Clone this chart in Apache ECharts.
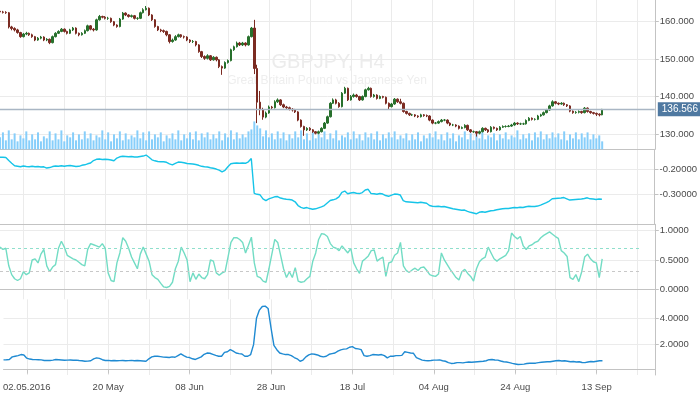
<!DOCTYPE html>
<html><head><meta charset="utf-8">
<script src="https://cdn.jsdelivr.net/npm/echarts@6/dist/echarts.min.js"></script>
<style>html,body{margin:0;padding:0;background:#fff}#c{width:700px;height:394px}</style>
</head><body><div id="c"></div>
<script>
// ---------- data ----------
const symbolName = 'GBPJPY, H4';
const symbolDesc = 'Great Britain Pound vs Japanese Yen';
const xTickLabels = ['02.05.2016','20 May','08 Jun','28 Jun','18 Jul','04 Aug','24 Aug','13 Sep'];
const priceTicks = [130,140,150,160];
const ind1Ticks = [-0.3,-0.2];
const ind2Ticks = [0,0.5,1];
const ind3Ticks = [2,4];
const ind2Levels = [0.7,0.3];
const lastPrice = 136.566;
// [open, close, low, high], 12h bars
const candles = [
[162.8,162.6,162.3,163.0],[162.6,162.5,162.2,162.9],[162.5,162.4,162.1,162.8],[162.4,158.6,158.2,162.6],[158.6,158.2,157.7,158.9],
[158.2,157.8,157.4,158.5],[157.8,157.1,156.8,158.1],[157.1,156.0,155.7,157.3],[156.0,156.7,155.8,157.0],[156.7,156.9,156.4,157.3],
[156.9,156.5,156.2,157.1],[156.5,156.0,155.7,156.8],[156.0,155.1,154.8,156.2],[155.1,155.6,154.9,155.9],[155.6,155.9,155.3,156.2],
[155.9,155.1,154.8,156.1],[155.1,155.3,154.8,155.6],[155.3,154.4,154.0,155.5],[154.4,156.0,154.2,156.3],[156.0,156.9,155.8,157.2],
[156.9,157.4,156.7,157.7],[157.4,158.0,157.2,158.3],[158.0,157.4,157.1,158.2],[157.4,156.9,156.6,157.6],[156.9,157.8,156.7,158.1],
[157.8,158.3,157.5,158.6],[158.3,156.9,156.6,158.5],[156.9,156.5,156.1,157.1],[156.5,156.9,156.3,157.2],[156.9,157.6,156.7,157.9],
[157.6,158.9,157.4,159.2],[158.9,158.0,157.7,159.1],[158.0,157.8,157.4,158.3],[157.8,160.5,157.6,160.8],[160.5,161.4,160.3,161.8],
[161.4,161.2,160.9,161.6],[161.2,160.9,160.6,161.5],[160.9,160.9,160.5,161.3],[160.9,160.0,159.7,161.1],[160.0,159.1,158.8,160.2],
[159.1,158.7,158.4,159.3],[158.7,160.7,158.5,161.0],[160.7,162.3,160.5,162.6],[162.3,161.8,161.5,162.5],[161.8,161.4,161.1,162.0],
[161.4,161.6,161.1,161.9],[161.6,160.9,160.6,161.8],[160.9,160.9,160.5,161.2],[160.9,162.4,160.7,162.7],[162.4,163.2,162.2,163.6],
[163.2,163.6,163.0,164.2],[163.6,161.8,161.5,163.8],[161.8,160.5,160.2,162.0],[160.5,158.7,158.4,160.7],[158.7,157.8,157.5,158.9],
[157.8,157.6,157.2,158.1],[157.6,157.4,157.0,157.9],[157.4,156.5,156.1,157.6],[156.5,154.7,154.2,156.7],[154.7,155.1,154.4,155.5],
[155.1,156.0,154.9,156.4],[156.0,156.5,155.8,156.8],[156.5,156.0,155.7,156.7],[156.0,155.9,155.5,156.3],[155.9,155.1,154.8,156.1],
[155.1,154.7,154.3,155.3],[154.7,154.7,154.3,155.1],[154.7,153.8,153.4,154.9],[153.8,152.0,151.7,154.0],[152.0,150.7,150.3,152.2],
[150.7,150.2,149.8,151.0],[150.2,150.9,149.9,151.3],[150.9,149.8,149.5,151.1],[149.8,150.5,149.6,150.8],[150.5,149.8,149.4,150.7],
[149.8,148.0,147.6,150.0],[148.0,147.6,145.8,148.3],[147.6,149.1,147.4,149.4],[149.1,149.6,148.8,149.9],[149.6,152.5,149.4,152.8],
[152.5,153.3,152.2,153.6],[153.3,154.3,153.1,154.7],[154.3,153.8,153.5,154.6],[153.8,154.3,153.5,154.6],[154.3,153.8,153.4,154.5],
[153.8,156.0,153.6,156.3],[156.0,158.3,155.8,158.6],[158.3,147.5,146.0,160.5],[147.5,138.5,132.9,148.5],[138.5,136.5,135.0,141.5],
[136.5,134.5,133.8,137.0],[134.5,135.6,134.2,136.0],[135.6,137.2,135.4,137.6],[137.2,137.0,136.6,137.5],[137.0,138.6,136.8,139.0],
[138.6,139.1,138.3,139.5],[139.1,137.8,137.5,139.3],[137.8,137.2,136.9,138.1],[137.2,137.0,136.7,137.5],[137.0,136.6,136.3,137.3],
[136.6,136.4,136.0,136.9],[136.4,135.9,135.6,136.7],[135.9,133.7,133.4,136.1],[133.7,132.0,131.7,133.9],[132.0,131.1,129.5,132.2],
[131.1,131.5,130.8,131.8],[131.5,131.1,130.8,131.8],[131.1,130.6,130.3,131.3],[130.6,130.2,129.9,130.8],[130.2,130.6,129.9,130.9],
[130.6,131.5,130.4,131.8],[131.5,132.9,131.3,133.2],[132.9,134.6,132.7,134.9],[134.6,138.2,134.4,138.5],[138.2,139.1,138.0,139.5],
[139.1,138.2,137.9,139.4],[138.2,137.3,137.0,138.5],[137.3,140.9,137.1,141.2],[140.9,142.2,140.7,142.6],[142.2,139.1,138.8,142.4],
[139.1,140.0,138.9,140.4],[140.0,140.4,139.7,140.8],[140.4,140.0,139.7,140.7],[140.0,139.1,138.8,140.2],[139.1,140.0,138.9,140.3],
[140.0,141.8,139.8,142.1],[141.8,142.2,141.6,142.6],[142.2,140.0,139.7,142.4],[140.0,140.4,139.7,140.7],[140.4,139.5,139.2,140.6],
[139.5,140.0,139.3,140.3],[140.0,139.8,139.5,140.2],[139.8,138.2,137.9,140.0],[138.2,137.3,136.4,138.4],[137.3,138.0,137.1,138.3],
[138.0,139.3,137.8,139.6],[139.3,138.6,138.3,139.5],[138.6,138.2,137.9,139.4],[138.2,136.0,135.7,138.4],[136.0,135.5,135.2,136.2],
[135.5,135.1,134.8,135.7],[135.1,135.1,134.8,135.4],[135.1,134.8,134.5,135.3],[134.8,134.6,134.3,135.0],[134.6,135.1,134.4,135.4],
[135.1,134.9,134.6,135.3],[134.9,134.8,134.5,135.2],[134.8,133.7,133.4,135.0],[133.7,132.9,132.6,133.9],[132.9,132.9,132.6,133.2],
[132.9,133.3,132.7,133.6],[133.3,133.7,133.1,134.0],[133.7,133.7,133.4,134.0],[133.7,132.9,132.6,133.9],[132.9,132.4,132.1,133.1],
[132.4,132.4,132.1,132.7],[132.4,132.1,131.8,132.6],[132.1,131.5,131.2,132.3],[131.5,131.7,131.3,132.0],[131.7,132.3,131.5,132.6],
[132.3,131.1,130.8,132.5],[131.1,130.6,130.3,131.3],[130.6,130.6,130.3,130.9],[130.6,130.2,129.3,130.8],[130.2,130.6,129.9,130.9],
[130.6,131.5,130.4,131.8],[131.5,131.1,130.8,131.7],[131.1,130.6,130.3,131.3],[130.6,131.8,130.4,132.1],[131.8,131.5,131.2,132.0],
[131.5,131.1,130.8,131.7],[131.1,131.8,130.9,132.1],[131.8,132.0,131.6,132.3],[132.0,132.0,131.7,132.3],[132.0,132.1,131.8,132.4],
[132.1,132.4,131.9,132.7],[132.4,132.9,132.2,133.2],[132.9,132.7,132.4,133.1],[132.7,132.7,132.4,133.0],[132.7,132.7,132.4,133.0],
[132.7,133.6,132.5,133.9],[133.6,134.2,133.4,134.5],[134.2,133.9,133.6,134.4],[133.9,133.9,133.6,134.2],[133.9,134.8,133.7,135.1],
[134.8,135.1,134.6,135.4],[135.1,135.7,134.9,136.0],[135.7,136.4,135.5,136.7],[136.4,137.5,136.2,137.8],[137.5,138.6,137.3,139.0],
[138.6,138.2,137.9,138.8],[138.2,138.0,137.7,138.4],[138.0,138.2,137.8,138.5],[138.2,137.8,137.5,138.4],[137.8,137.5,137.2,138.0],
[137.5,136.1,135.8,137.7],[136.1,135.7,135.4,136.3],[135.7,135.8,135.4,136.1],[135.8,136.0,135.5,136.3],[136.0,135.7,135.4,136.2],
[135.7,136.9,135.5,137.2],[136.9,136.0,135.7,137.1],[136.0,135.7,135.4,136.2],[135.7,135.5,135.2,135.9],[135.5,135.3,134.8,135.7],
[135.3,135.1,134.7,135.5],[135.1,136.566,135.0,136.7]
];
const volume = [
12,17,9,19,10,16,8,14,11,18, 9,15,10,17,8,13,11,18,9,16, 10,19,8,14,12,17,9,15,10,18, 11,16,9,14,12,19,10,17,8,15,
11,18,9,16,10,14,12,19,11,17, 9,18,10,15,12,17,8,14,11,16, 10,19,9,15,11,17,10,18,9,16, 12,17,10,15,11,18,9,16,12,19,
10,17,11,15,12,18,20,28,24,21, 13,19,12,16,10,18,11,17,9,15, 11,18,12,19,10,16,9,17,11,15, 12,18,10,16,11,19,9,14,12,17,
10,18,11,15,9,17,12,16,10,18, 9,15,11,17,12,18,10,14,11,16, 9,15,10,17,8,14,11,16,12,18, 10,15,9,17,11,16,8,14,12,18,
10,16,9,15,11,17,10,14,12,16, 9,15,11,17,10,14,12,19,10,15, 11,16,9,17,12,18,10,15,11,17, 12,16,10,18,9,15,11,17,10,16,
12,17,10,15,11,14,8
];
const ind1 = [
-0.152,-0.152,-0.153,-0.165,-0.176,-0.186,-0.188,-0.19,-0.187,-0.189,
-0.19,-0.188,-0.19,-0.189,-0.191,-0.19,-0.195,-0.193,-0.189,-0.187,
-0.188,-0.186,-0.188,-0.186,-0.185,-0.187,-0.189,-0.188,-0.184,-0.182,
-0.178,-0.175,-0.165,-0.16,-0.159,-0.161,-0.16,-0.161,-0.163,-0.166,
-0.155,-0.15,-0.148,-0.149,-0.15,-0.149,-0.151,-0.151,-0.149,-0.147,
-0.143,-0.152,-0.162,-0.166,-0.169,-0.17,-0.17,-0.172,-0.178,-0.182,
-0.176,-0.171,-0.172,-0.174,-0.177,-0.178,-0.179,-0.181,-0.184,-0.188,
-0.19,-0.191,-0.194,-0.196,-0.199,-0.203,-0.21,-0.204,-0.19,-0.178,
-0.176,-0.175,-0.176,-0.175,-0.176,-0.17,-0.157,-0.296,-0.3,-0.302,
-0.318,-0.325,-0.318,-0.314,-0.31,-0.309,-0.315,-0.318,-0.32,-0.321,
-0.323,-0.33,-0.345,-0.352,-0.356,-0.353,-0.357,-0.36,-0.358,-0.354,
-0.35,-0.345,-0.335,-0.325,-0.322,-0.318,-0.31,-0.292,-0.287,-0.298,
-0.295,-0.293,-0.296,-0.297,-0.293,-0.283,-0.28,-0.297,-0.298,-0.3,
-0.297,-0.299,-0.305,-0.308,-0.303,-0.299,-0.3,-0.303,-0.325,-0.33,
-0.331,-0.332,-0.333,-0.334,-0.332,-0.334,-0.336,-0.345,-0.348,-0.349,
-0.348,-0.35,-0.349,-0.352,-0.355,-0.358,-0.36,-0.362,-0.364,-0.363,
-0.368,-0.372,-0.375,-0.378,-0.372,-0.37,-0.372,-0.369,-0.366,-0.365,
-0.362,-0.36,-0.358,-0.357,-0.357,-0.355,-0.353,-0.354,-0.352,-0.353,
-0.35,-0.348,-0.349,-0.349,-0.347,-0.343,-0.338,-0.333,-0.327,-0.318,
-0.317,-0.316,-0.315,-0.313,-0.318,-0.323,-0.322,-0.321,-0.32,-0.319,
-0.317,-0.314,-0.318,-0.319,-0.321,-0.319,-0.32
];
const ind2 = [
0.72,0.68,0.7,0.4,0.25,0.18,0.15,0.18,0.3,0.25,
0.28,0.5,0.52,0.45,0.6,0.68,0.4,0.3,0.38,0.42,
0.7,0.82,0.72,0.58,0.55,0.52,0.5,0.46,0.42,0.4,
0.68,0.78,0.76,0.74,0.72,0.78,0.7,0.28,0.15,0.13,
0.45,0.62,0.88,0.82,0.7,0.55,0.45,0.35,0.6,0.72,
0.6,0.48,0.25,0.2,0.17,0.1,0.04,0.03,0.05,0.12,
0.35,0.48,0.72,0.62,0.5,0.13,0.28,0.17,0.26,0.2,
0.18,0.25,0.5,0.48,0.28,0.24,0.28,0.3,0.55,0.8,
0.88,0.88,0.85,0.8,0.62,0.75,0.89,0.45,0.22,0.2,
0.14,0.12,0.35,0.6,0.85,0.8,0.58,0.35,0.2,0.3,
0.2,0.37,0.14,0.12,0.13,0.18,0.22,0.48,0.62,0.85,
0.95,0.94,0.9,0.78,0.72,0.7,0.66,0.74,0.68,0.62,
0.7,0.45,0.35,0.27,0.48,0.52,0.57,0.66,0.67,0.48,
0.52,0.55,0.22,0.45,0.47,0.58,0.62,0.8,0.4,0.32,
0.29,0.33,0.36,0.32,0.37,0.38,0.32,0.25,0.23,0.22,
0.26,0.62,0.5,0.42,0.34,0.27,0.2,0.16,0.3,0.34,
0.27,0.22,0.14,0.35,0.47,0.52,0.55,0.72,0.62,0.52,
0.48,0.52,0.55,0.58,0.66,0.96,0.9,0.86,0.9,0.74,
0.68,0.74,0.76,0.8,0.82,0.88,0.92,0.95,0.98,0.94,
0.9,0.87,0.66,0.62,0.56,0.2,0.17,0.25,0.13,0.3,
0.55,0.6,0.52,0.47,0.45,0.2,0.52
];
const ind3 = [
0.77,0.78,0.8,1.0,1.05,1.1,1.18,1.15,0.9,0.83,
0.8,0.79,0.78,0.77,0.72,0.73,0.72,0.75,0.8,0.78,
0.76,0.74,0.75,0.76,0.74,0.75,0.72,0.7,0.66,0.67,
0.7,0.85,0.92,0.88,0.78,0.72,0.73,0.7,0.72,0.7,
0.71,0.72,0.7,0.71,0.73,0.7,0.72,0.7,0.68,0.66,
0.85,1.0,1.05,1.05,1.02,0.98,0.97,0.95,1.0,0.97,
1.1,1.23,1.1,0.98,0.95,0.85,0.8,0.9,1.0,1.2,
1.3,1.28,1.2,1.12,1.05,1.05,1.35,1.4,1.56,1.45,
1.3,1.25,1.22,1.05,1.05,1.18,1.95,4.0,4.64,4.92,
4.95,4.77,3.25,1.9,1.56,1.3,1.23,1.18,1.18,1.1,
0.95,0.85,0.66,0.75,1.0,1.15,1.23,1.2,1.15,1.05,
1.0,1.05,1.2,1.25,1.3,1.45,1.55,1.6,1.62,1.75,
1.8,1.65,1.62,1.56,1.1,1.05,1.1,1.18,1.17,1.15,
1.18,1.1,0.92,1.05,1.05,1.1,1.1,1.12,1.4,1.35,
1.3,1.28,0.95,0.85,0.75,0.72,0.7,0.72,0.75,0.75,
0.77,0.7,0.66,0.55,0.49,0.5,0.55,0.55,0.53,0.57,
0.6,0.58,0.6,0.62,0.64,0.66,0.7,0.78,0.8,0.76,
0.75,0.68,0.62,0.6,0.55,0.49,0.45,0.41,0.42,0.44,
0.48,0.5,0.5,0.51,0.55,0.58,0.6,0.62,0.62,0.66,
0.7,0.72,0.68,0.7,0.66,0.62,0.64,0.6,0.62,0.56,
0.55,0.6,0.64,0.62,0.66,0.7,0.7
];

// ---------- axis slots ----------
const totalSlots = 225, firstLabelSlot = 8, slotsPerLabel = 28, slotsPerGrid = 14, levelEndSlot = 219;
const categories = [];
for (let i = 0, k = 0; i < totalSlots; i++) {
  if (i >= firstLabelSlot && (i - firstLabelSlot) % slotsPerLabel === 0 && k < xTickLabels.length) categories.push(xTickLabels[k++]);
  else categories.push('s' + i);
}
const isLabel = (idx, v) => xTickLabels.indexOf(categories[idx]) >= 0;
const isGrid = (idx) => idx >= firstLabelSlot && (idx - firstLabelSlot) % slotsPerGrid === 0;

// ---------- style ----------
const GRID = '#ebebeb', SEP = '#c3c3c3', TXT = '#4a4a4a', FONT = 'Liberation Sans';
const UP = '#27702c', DOWN = '#7b2b22';
const L = -0.7, R = 45.2;

function xAxis(gi, labels) {
  return {
    type: 'category', gridIndex: gi, data: categories, boundaryGap: false,
    axisLine: { show: true, lineStyle: { color: SEP, width: 1 } },
    axisTick: { show: labels, interval: isLabel, length: 4, lineStyle: { color: SEP } },
    axisLabel: { show: labels, interval: isLabel, color: TXT, fontSize: 9.5, fontFamily: FONT, margin: 7 },
    splitLine: { show: true, interval: isGrid, lineStyle: { color: GRID, width: 1 } }
  };
}
function yAxis(gi, min, max, ticks, dec) {
  return {
    type: 'value', gridIndex: gi, position: 'right', min: min, max: max,
    axisLine: { show: true, lineStyle: { color: SEP, width: 1 } },
    axisTick: { show: true, length: 4, customValues: ticks, lineStyle: { color: SEP } },
    axisLabel: { customValues: ticks, formatter: v => Number(v).toFixed(dec), color: TXT, fontSize: 9.5, fontFamily: FONT, margin: 5 },
    splitLine: { show: true, lineStyle: { color: GRID, width: 1 } }
  };
}

const chart = echarts.init(document.getElementById('c'), null, { renderer: 'canvas' });
chart.setOption({
  animation: false,
  backgroundColor: '#ffffff',
  grid: [
    { left: L, right: R, top: 0, height: 149.3 },
    { left: L, right: R, top: 149.3, height: 75 },
    { left: L, right: R, top: 224.3, height: 75 },
    { left: L, right: R, top: 299.3, height: 75.7 }
  ],
  graphic: [
    { type: 'text', x: 328, y: 62, z: 0, silent: true,
      style: { text: symbolName, fill: '#ececec', font: '20px "Liberation Sans"', align: 'center', verticalAlign: 'middle', textAlign: 'center', textVerticalAlign: 'middle' } },
    { type: 'text', x: 327, y: 81, z: 0, silent: true,
      style: { text: symbolDesc, fill: '#eeeeee', font: '12px "Liberation Sans"', align: 'center', verticalAlign: 'middle', textAlign: 'center', textVerticalAlign: 'middle' } }
  ],
  xAxis: [xAxis(0, false), xAxis(1, false), xAxis(2, false), xAxis(3, true)],
  yAxis: [
    yAxis(0, 125.9, 165.8, priceTicks, 3),
    { type: 'value', gridIndex: 0, min: 0, max: 150, show: false, splitLine: { show: false } },
    yAxis(1, -0.42, -0.12, ind1Ticks, 5),
    yAxis(2, -0.171, 1.109, ind2Ticks, 4),
    yAxis(3, -0.41, 5.48, ind3Ticks, 4)
  ],
  series: [
    { type: 'bar', xAxisIndex: 0, yAxisIndex: 1, data: volume, barWidth: 2, silent: true,
      itemStyle: { color: '#87cefa' } },
    { type: 'candlestick', xAxisIndex: 0, yAxisIndex: 0, data: candles, barWidth: 2, silent: true,
      itemStyle: { color: UP, color0: DOWN, borderColor: UP, borderColor0: DOWN, borderWidth: 1 },
      markLine: { symbol: 'none', silent: true, animation: false,
        lineStyle: { color: '#a9b6c4', width: 1.3, type: 'solid' },
        label: { position: 'end', distance: 3, formatter: () => lastPrice.toFixed(3), color: '#ffffff',
          backgroundColor: '#4f79a1', padding: [2, 4, 2, 4], fontSize: 10, fontFamily: FONT },
        data: [{ yAxis: lastPrice }] } },
    { type: 'line', xAxisIndex: 1, yAxisIndex: 2, data: ind1, showSymbol: false, silent: true,
      lineStyle: { color: '#16c4e8', width: 1.4 } },
    { type: 'line', xAxisIndex: 2, yAxisIndex: 3, data: ind2, showSymbol: false, silent: true,
      lineStyle: { color: '#72dcc4', width: 1.4 },
      markLine: { symbol: 'none', silent: true, label: { show: false },
        data: [
          [{ coord: [categories[0], ind2Levels[0]], lineStyle: { color: '#8fdfcc', type: [3, 3], width: 1 } }, { coord: [categories[levelEndSlot], ind2Levels[0]] }],
          [{ coord: [categories[0], ind2Levels[1]], lineStyle: { color: '#c8c8c8', type: [3, 3], width: 1 } }, { coord: [categories[levelEndSlot], ind2Levels[1]] }]
        ] } },
    { type: 'line', xAxisIndex: 3, yAxisIndex: 4, data: ind3, showSymbol: false, silent: true,
      lineStyle: { color: '#1f8ad2', width: 1.4 } }
  ]
});
</script>
</body></html>
